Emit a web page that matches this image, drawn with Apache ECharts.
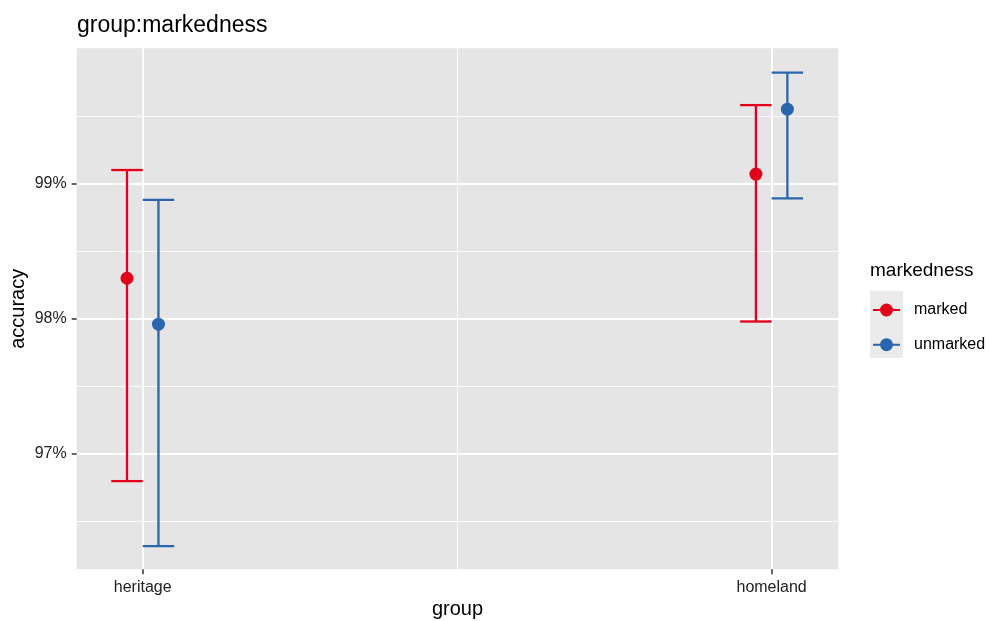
<!DOCTYPE html>
<html>
<head>
<meta charset="utf-8">
<script src="https://cdn.jsdelivr.net/npm/echarts@6/dist/echarts.min.js"></script>
<style>
html,body{margin:0;padding:0;background:#fff;}
#c{width:989px;height:621px;}
</style>
</head>
<body>
<div id="c"></div>
<script>
// ---- data ----
var categories = ['heritage', 'homeland'];
var markedMean  = [98.30, 99.07];
var markedLow   = [96.80, 97.98];
var markedHigh  = [99.10, 99.58];
var unmarkedMean = [97.96, 99.55];
var unmarkedLow  = [96.32, 98.89];
var unmarkedHigh = [98.88, 99.82];
var yTicks = [97, 98, 99];
var yMinor = [96.5, 97.5, 98.5, 99.5];
var xMinor = [1.5];

// ---- styling constants ----
var RED = '#E2001A', BLUE = '#2A66AE';
var DODGE = 0.025, CAP = 0.025;
var FONT = 'Liberation Sans, Arial, Helvetica, sans-serif';

function pts(mean, off) {
  return mean.map(function (v, i) { return [i + 1 + off, v]; });
}
function bars(lo, hi, off) {
  return lo.map(function (v, i) { return [i + 1 + off, v, hi[i]]; });
}
function errRender(color) {
  return function (params, api) {
    var x = api.value(0);
    var top = api.coord([x, api.value(2)]);
    var bot = api.coord([x, api.value(1)]);
    var hw = api.size([CAP, 0])[0];
    var st = { stroke: color, lineWidth: 2.3, fill: null };
    return {
      type: 'group',
      children: [
        { type: 'line', shape: { x1: top[0], y1: top[1], x2: bot[0], y2: bot[1] }, style: st },
        { type: 'line', shape: { x1: top[0] - hw, y1: top[1], x2: top[0] + hw, y2: top[1] }, style: st },
        { type: 'line', shape: { x1: bot[0] - hw, y1: bot[1], x2: bot[0] + hw, y2: bot[1] }, style: st }
      ]
    };
  };
}

var gridLines = [];
yTicks.forEach(function (v) { gridLines.push({ yAxis: v, lineStyle: { color: '#fff', width: 1.8, type: 'solid' } }); });
[1, 2].forEach(function (v) { gridLines.push({ xAxis: v, lineStyle: { color: '#fff', width: 1.8, type: 'solid' } }); });
yMinor.forEach(function (v) { gridLines.push({ yAxis: v, lineStyle: { color: '#fff', width: 0.9, type: 'solid' } }); });
xMinor.forEach(function (v) { gridLines.push({ xAxis: v, lineStyle: { color: '#fff', width: 0.9, type: 'solid' } }); });

var legendIcon = 'path://M0,5.5 L27,5.5 L27,7.5 L0,7.5 Z M20,6.5 A6.5,6.5 0 1 1 7,6.5 A6.5,6.5 0 1 1 20,6.5 Z';

var chart = echarts.init(document.getElementById('c'), null, { renderer: 'canvas' });
chart.setOption({
  animation: false,
  backgroundColor: '#fff',
  title: [
    { text: 'group:markedness', left: 77, top: 14, padding: 0,
      textStyle: { fontFamily: FONT, fontSize: 23, fontWeight: 'normal', color: '#000' } },
    { text: 'markedness', left: 870, top: 261, padding: 0,
      textStyle: { fontFamily: FONT, fontSize: 19, fontWeight: 'normal', color: '#000' } }
  ],
  graphic: [
    { type: 'rect', left: 870, top: 291, shape: { width: 33, height: 67 }, style: { fill: '#EBEBEB' }, z: -1 }
  ],
  legend: {
    orient: 'vertical', left: 873, top: 302, padding: 0,
    itemWidth: 27, itemHeight: 13, itemGap: 18.7,
    data: [{ name: 'marked', icon: legendIcon }, { name: 'unmarked', icon: legendIcon }],
    textStyle: { fontFamily: FONT, fontSize: 16, color: '#000', padding: [0, 0, 0, 9] },
    selectedMode: false
  },
  grid: {
    left: 76.7, right: 150.7, top: 48.3, bottom: 51.7,
    containLabel: false, outerBoundsMode: 'none',
    show: true, backgroundColor: '#E5E5E5', borderWidth: 0
  },
  xAxis: {
    type: 'value', min: 0.895, max: 2.106,
    name: 'group', nameLocation: 'middle', nameGap: 30, nameMoveOverlap: false,
    nameTextStyle: { fontFamily: FONT, fontSize: 20, color: '#000' },
    axisLine: { show: false },
    axisTick: { show: true, length: 5, customValues: [1, 2], lineStyle: { color: '#333', width: 1.5 } },
    axisLabel: { customValues: [1, 2], margin: 10, fontFamily: FONT, fontSize: 16, color: '#222',
      formatter: function (v) { return categories[Math.round(v) - 1] || ''; } },
    splitLine: { show: false }
  },
  yAxis: {
    type: 'value', min: 96.148, max: 100.0,
    name: 'accuracy', nameLocation: 'middle', nameGap: 48, nameRotate: 90, nameMoveOverlap: false,
    nameTextStyle: { fontFamily: FONT, fontSize: 20, color: '#000' },
    axisLine: { show: false },
    axisTick: { show: true, length: 5, customValues: yTicks, lineStyle: { color: '#333', width: 1.5 } },
    axisLabel: { customValues: yTicks, margin: 10, fontFamily: FONT, fontSize: 16, color: '#222',
      formatter: function (v) { return Math.round(v) + '%'; } },
    splitLine: { show: false }
  },
  series: [
    { type: 'line', name: 'grid', data: [], silent: true, z: 0,
      markLine: { silent: true, z: 0, symbol: 'none', label: { show: false }, animation: false, data: gridLines } },
    { type: 'custom', name: 'marked', renderItem: errRender(RED), data: bars(markedLow, markedHigh, -DODGE),
      itemStyle: { color: RED }, z: 10, silent: true },
    { type: 'custom', name: 'unmarked', renderItem: errRender(BLUE), data: bars(unmarkedLow, unmarkedHigh, DODGE),
      itemStyle: { color: BLUE }, z: 10, silent: true },
    { type: 'scatter', name: 'marked', data: pts(markedMean, -DODGE), symbol: 'circle', symbolSize: 13,
      itemStyle: { color: RED, opacity: 1 }, z: 11 },
    { type: 'scatter', name: 'unmarked', data: pts(unmarkedMean, DODGE), symbol: 'circle', symbolSize: 13,
      itemStyle: { color: BLUE, opacity: 1 }, z: 11 }
  ]
});
</script>
</body>
</html>
